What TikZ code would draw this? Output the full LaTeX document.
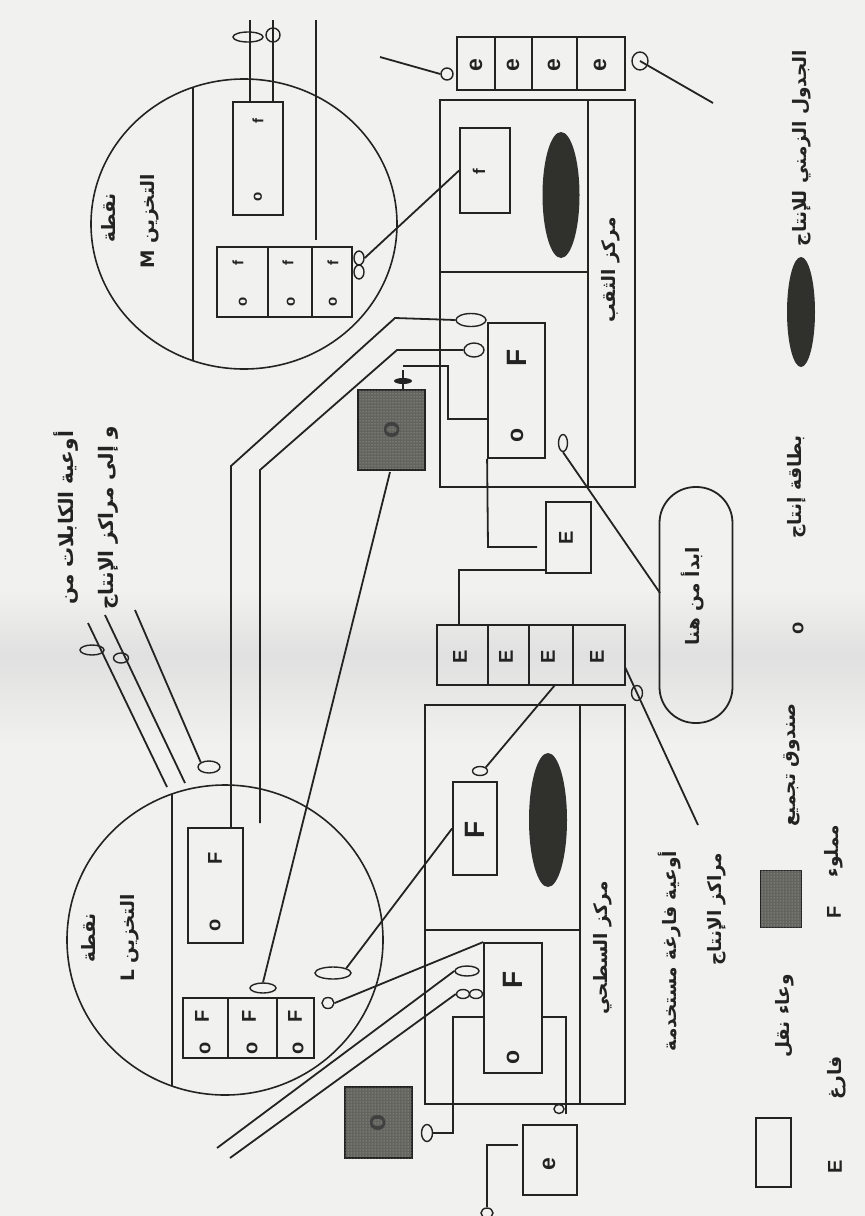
\documentclass[tikz,border=0pt]{standalone}
\usepackage{fontspec}
\setmainfont{Liberation Sans}
\newfontfamily\arabicfont[Script=Arabic]{DejaVu Sans}
\TeXXeTstate=1
\usetikzlibrary{shapes.geometric,fit,patterns}
\definecolor{bgc}{RGB}{241,241,239}
\definecolor{ink}{RGB}{35,35,35}
\definecolor{blob}{RGB}{48,48,44}
\definecolor{hatch}{RGB}{100,100,95}
\tikzset{
 ln/.style={draw=ink, line width=1.8pt},
 bx/.style={draw=ink, line width=1.8pt, inner sep=0pt, rectangle},
 gbox/.style={bx, fill=hatch, postaction={pattern=dots, pattern color=gray!55}},
 ov/.style={draw=ink, line width=1.4pt, ellipse, inner sep=0pt},
 blk/.style={fill=blob, ellipse, inner sep=0pt},
 latL/.style={rotate=90, text=ink, inner sep=0pt, font=\bfseries\fontsize{28}{30}\selectfont},
 latE/.style={rotate=90, text=ink, inner sep=0pt, font=\bfseries\fontsize{23}{25}\selectfont},
 latM/.style={rotate=90, text=ink, inner sep=0pt, font=\bfseries\fontsize{20}{22}\selectfont},
 latS/.style={rotate=90, text=ink, inner sep=0pt, font=\bfseries\fontsize{15}{17}\selectfont},
 ar/.style={rotate=90, text=ink, inner sep=0pt, font=\arabicfont\bfseries\fontsize{18.5}{20}\selectfont},
 arB/.style={ar, font=\arabicfont\bfseries\fontsize{20}{22}\selectfont},
}
\begin{document}
\begin{tikzpicture}[x=1pt,y=-1pt]
\useasboundingbox (0,0) rectangle (865,1216);
\fill[bgc] (0,0) rectangle (865,1216);
\shade[top color=bgc, bottom color=gray!24] (0,590) rectangle (865,655);
\shade[top color=gray!24, bottom color=bgc] (0,655) rectangle (865,745);

% ================= storage point M =================
\node[ov, line width=1.6pt, minimum width=306pt, minimum height=290pt] (circM) at (244,224) {};
\draw[ln] (193,87) -- (193,361);
\node[ar] (tM1) at (108,218) {\beginR نقطة\endR};
\node[ar] (tM2) at (150,221) {\beginR التخزين \beginL M\endL\endR};
\node[bx, fit={(233,102) (283,215)}] (mf1) {};
\node[latS] (mf1a) at (258,121) {f};
\node[latS] (mf1b) at (258,197) {o};
\coordinate (t1) at (250,20);
\coordinate (t2) at (273,20);
\draw[ln] (t1) -- (t1 |- mf1.north);
\draw[ln] (t2) -- (t2 |- mf1.north);
\node[ov, minimum width=30pt, minimum height=10pt] (mo1) at (248,37) {};
\node[ov, minimum width=14pt, minimum height=14pt] (mo2) at (273,35) {};
\coordinate (t3) at (316,20);
\coordinate (t3e) at (316,240);
\draw[ln] (t3) -- (t3e);
\node[bx, fit={(217,247) (352,317)}] (mcells) {};
\draw[ln] (268,247) -- (268,317) (312,247) -- (312,317);
\foreach \x/\xo [count=\i] in {238/243,288/291,333/333}{
  \node[latS] (mcf\i) at (\x,263) {f};
  \node[latS] (mco\i) at (\xo,302) {o};
}
\node[ov, minimum width=10pt, minimum height=14pt] (mdo1) at (359,258) {};
\node[ov, minimum width=10pt, minimum height=14pt] (mdo2) at (359,272) {};

% ================= upper container row (e) =================
\node[bx, fit={(457,37) (625,90)}] (ucells) {};
\draw[ln] (495,37) -- (495,90) (532,37) -- (532,90) (577,37) -- (577,90);
\foreach \x [count=\i] in {476,513,554,600}{
  \node[latE] (uce\i) at (\x,65) {e};
}
\coordinate (c380) at (380,57);
\node[ov, minimum size=12pt] (ue0) at (447,74) {};
\draw[ln] (c380) -- (ue0.west);
\node[ov, minimum width=16pt, minimum height=18pt] (ueR) at (640,61) {};
\coordinate (c713) at (713,103);
\draw[ln] (ueR.center) -- (c713);

% ================= upper centre (drilling) =================
\node[bx, fit={(440,100) (635,487)}] (urect) {};
\draw[ln] (588,100) -- (588,487);
\draw[ln] (440,272) -- (588,272);
\node[ar] (tU) at (611,270) {\beginR مركز الثقب\endR};
\node[blk, minimum width=37pt, minimum height=126pt] (ublob) at (561,195) {};
\node[bx, fit={(460,128) (510,213)}] (uf) {};
\node[latS, font=\bfseries\fontsize{17}{19}\selectfont] (ufl) at (479,172) {f};
\draw[ln] (mdo1.east) -- (uf.west);
\node[bx, fit={(488,323) (545,458)}] (uF) {};
\node[latL] (uFa) at (517,358) {F};
\node[latE] (uFb) at (517,435) {o};
\node[ov, minimum width=30pt, minimum height=13pt] (uovA) at (471,320) {};
\node[ov, minimum width=20pt, minimum height=14pt] (uovB) at (474,350) {};
\coordinate (a1) at (395,318);
\coordinate (a2) at (231,466);
\coordinate (b1) at (397,350);
\coordinate (b2) at (260,470);
\coordinate (b3) at (260,823);
\coordinate (c1) at (403,366);
\coordinate (c2) at (448,366);
\coordinate (c3) at (448,419);
\draw[ln] (c1) -- (c2) -- (c3) -- (c3 -| uF.west);
\coordinate (d1) at (488,547);
\coordinate (d2) at (537,547);
\draw[ln] (uF.south west) -- (d1) -- (d2);
\node[bx, fit={(546,502) (591,573)}] (uE) {};
\node[latM] (uEl) at (566,538) {E};
\coordinate (f1) at (546,570);
\coordinate (f2) at (459,570);
\coordinate (f3) at (459,625);
\draw[ln] (f1) -- (f2) -- (f3);
\node[ov, minimum width=9pt, minimum height=17pt] (uov3) at (563,443) {};

% upper collection box
\node[gbox, fit={(358,390) (425,470)}] (ug) {};
\node[latL, text=black!75] (ugl) at (392,430) {o};
\coordinate (pin1) at (403,370);
\draw[ln] (pin1) -- (pin1 |- ug.north);
\node[blk, fill=ink, minimum width=18pt, minimum height=6pt] (pinov) at (403,381) {};
\coordinate (g1) at (390,472);

% ================= start pill =================
\node[draw=ink, line width=1.8pt, rounded corners=36pt, minimum width=73pt, minimum height=236pt, inner sep=0pt] (pill) at (696,605) {};
\node[ar] (tP) at (693,596) {\beginR ابدأ من هنا\endR};
\coordinate (pw) at (660,593);
\draw[ln] (uov3.south) -- (pw);

% ================= lower container row (E) =================
\node[bx, fit={(437,625) (625,685)}] (lcells) {};
\draw[ln] (488,625) -- (488,685) (529,625) -- (529,685) (573,625) -- (573,685);
\foreach \x [count=\i] in {460,506,548,597}{
  \node[latM] (lce\i) at (\x,657) {E};
}
\coordinate (s1) at (555,685);
\coordinate (s2) at (625,667);
\coordinate (s3) at (698,825);
\draw[ln] (s2) -- (s3);
\node[ov, minimum width=11pt, minimum height=15pt] (lcov) at (637,693) {};
\node[ar] (tE1) at (670,951) {\beginR أوعية فارغة مستخدمة\endR};
\node[ar] (tE2) at (717,909) {\beginR مراكز الإنتاج\endR};

% ================= lower centre (surface) =================
\node[bx, fit={(425,705) (625,1104)}] (lrect) {};
\draw[ln] (580,705) -- (580,1104);
\draw[ln] (425,930) -- (580,930);
\node[ar] (tS) at (603,948) {\beginR مركز السطحي\endR};
\node[blk, minimum width=38pt, minimum height=134pt] (lblob) at (548,820) {};
\node[bx, fit={(453,782) (497,875)}] (lF2) {};
\node[latL] (lF2a) at (475,830) {F};
\node[ov, minimum width=15pt, minimum height=9pt] (lov9) at (480,771) {};
\draw[ln] (s1) -- (lov9.north east);
\node[bx, fit={(484,943) (542,1073)}] (lF3) {};
\node[latL] (lF3a) at (513,980) {F};
\node[latE] (lF3b) at (513,1057) {o};
\node[ov, minimum width=24pt, minimum height=10pt] (lov4) at (467,971) {};
\node[ov, minimum width=13pt, minimum height=9pt] (lov5a) at (463,994) {};
\node[ov, minimum width=13pt, minimum height=9pt] (lov5b) at (476,994) {};
\coordinate (p1) at (217,1148);
\coordinate (p2) at (230,1158);
\draw[ln] (p1) -- (lov4.west);
\draw[ln] (p2) -- (lov5a.west);
\coordinate (q1) at (484,1017);
\coordinate (q2) at (453,1017);
\coordinate (q3) at (453,1133);
\node[ov, minimum width=11pt, minimum height=17pt] (lov6) at (427,1133) {};
\draw[ln] (q1) -- (q2) -- (q3) -- (lov6.east);
\coordinate (q4) at (542,1017);
\coordinate (q5) at (566,1017);
\coordinate (q6) at (566,1114);
\draw[ln] (q4) -- (q5) -- (q6);
\node[ov, minimum width=10pt, minimum height=9pt] (lov7) at (559,1109) {};
\node[bx, fit={(523,1125) (577,1195)}] (le) {};
\node[latE] (lel) at (549,1164) {e};
\coordinate (r1) at (518,1145);
\coordinate (r2) at (487,1145);
\node[ov, minimum width=12pt, minimum height=10pt] (lov8) at (487,1213) {};
\draw[ln] (r1) -- (r2) -- (lov8.north);
\node[gbox, fit={(345,1087) (412,1158)}] (lg) {};
\node[latL, text=black!75] (lgl) at (378,1123) {o};

% ================= storage point L =================
\node[ov, line width=1.6pt, minimum width=316pt, minimum height=310pt] (circL) at (225,940) {};
\draw[ln] (172,794) -- (172,1086);
\node[ar] (tL1) at (88,938) {\beginR نقطة\endR};
\node[ar] (tL2) at (130,938) {\beginR التخزين \beginL L\endL\endR};
\node[bx, fit={(188,828) (243,943)}] (lF) {};
\node[latM] (lFa) at (215,858) {F};
\node[latM] (lFb) at (215,925) {o};
\node[bx, fit={(183,998) (314,1058)}] (lcellsL) {};
\draw[ln] (228,998) -- (228,1058) (277,998) -- (277,1058);
\foreach \x [count=\i] in {202,249,295}{
  \node[latM] (lLF\i) at (\x,1016) {F};
  \node[latM] (lLo\i) at (\x+3,1048) {o};
}
\node[ov, minimum width=26pt, minimum height=10pt] (lov1) at (263,988) {};
\node[ov, minimum width=36pt, minimum height=12pt] (lov2) at (333,973) {};
\node[ov, minimum width=12pt, minimum height=11pt] (lov3) at (328,1003) {};
\draw[ln] (lov2.north east) -- (lF2.west);
\draw[ln] (lov3.east) -- (lF3.north west);
\draw[ln] (g1) -- (lov1.north);

% cables A and B
\draw[ln] (uovA.west) -- (a1) -- (a2) -- (a2 |- lF.north);
\draw[ln] (uovB.west) -- (b1) -- (b2) -- (b3);

% ================= cable containers text (left) =================
\node[arB] (tC1) at (66,518) {\beginR أوعية الكابلات من\endR};
\node[arB] (tC2) at (108,518) {\beginR و إلى مراكز الإنتاج\endR};
\coordinate (k1a) at (88,623);
\coordinate (k1b) at (167,787);
\coordinate (k2a) at (105,615);
\coordinate (k2b) at (185,783);
\coordinate (k3a) at (135,610);
\draw[ln] (k1a) -- (k1b);
\draw[ln] (k2a) -- (k2b);
\node[ov, minimum width=22pt, minimum height=12pt] (kov3) at (209,767) {};
\draw[ln] (k3a) -- (kov3.north west);
\node[ov, minimum width=24pt, minimum height=10pt] (kov1) at (92,650) {};
\node[ov, minimum width=15pt, minimum height=10pt] (kov2) at (121,658) {};

% ================= legend =================
\node[ar] (lg1) at (802,148) {\beginR الجدول الزمني للإنتاج\endR};
\node[blk, minimum width=28pt, minimum height=110pt] (lgE) at (801,312) {};
\node[ar] (lg2) at (797,487) {\beginR بطاقة إنتاج\endR};
\node[latM] (lg3) at (798,628) {o};
\node[ar] (lg4) at (792,765) {\beginR صندوق تجميع\endR};
\node[gbox, line width=1pt, fit={(760,870) (801,927)}] (lgG) {};
\node[ar] (lg5) at (785,1016) {\beginR وعاء نقل\endR};
\node[bx, line width=1.2pt, fit={(756,1118) (791,1187)}] (lgW) {};
\node[ar] (lg6) at (834,851) {\beginR مملوء\endR};
\node[latM] (lg7) at (834,912) {F};
\node[ar] (lg8) at (837,1078) {\beginR فارغ\endR};
\node[latM] (lg9) at (835,1167) {E};
\end{tikzpicture}
\end{document}
